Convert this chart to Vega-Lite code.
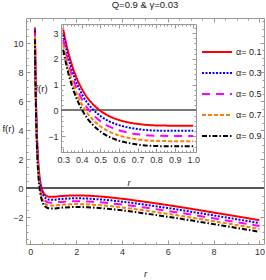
{
  "$schema": "https://vega.github.io/schema/vega-lite/v6.json",
  "width": 238,
  "height": 226,
  "autosize": "none",
  "padding": {"left": 26, "top": 18, "right": 2, "bottom": 36},
  "title": {"text": "Q=0.9 & γ=0.03", "frame": "group", "anchor": "middle", "baseline": "bottom", "offset": -2, "fontSize": 9.5, "fontWeight": "normal", "font": "Liberation Sans Narrow, Liberation Sans", "color": "#222"},
  "config": {
    "font": "Liberation Sans Narrow, Liberation Sans",
    "view": {"stroke": null},
    "axis": {"grid": false, "domainColor": "#999", "tickColor": "#999", "labelColor": "#333", "labelFontSize": 9, "titleFontWeight": "normal", "titleFontSize": 9.5, "titleColor": "#222", "labelFont": "Liberation Sans Narrow, Liberation Sans", "titleFont": "Liberation Sans Narrow, Liberation Sans"},
    "legend": {"orient": "none", "legendX": 175, "legendY": 23.5, "symbolType": "stroke", "symbolSize": 900, "symbolStrokeWidth": 2, "labelFontSize": 9, "labelColor": "#222", "labelOffset": 3, "clipHeight": 21, "rowPadding": 0, "padding": 0, "title": null}
  },
  "data": {"values": [
    {"r":0.2,"a":"α= 0.1","f":11.08},{"r":0.2,"a":"α= 0.3","f":10.88},{"r":0.2,"a":"α= 0.5","f":10.68},{"r":0.2,"a":"α= 0.7","f":10.48},{"r":0.2,"a":"α= 0.9","f":10.28},
    {"r":0.21,"a":"α= 0.1","f":9.67},{"r":0.21,"a":"α= 0.3","f":9.47},{"r":0.21,"a":"α= 0.5","f":9.27},{"r":0.21,"a":"α= 0.7","f":9.07},{"r":0.21,"a":"α= 0.9","f":8.87},
    {"r":0.22,"a":"α= 0.1","f":8.47},{"r":0.22,"a":"α= 0.3","f":8.27},{"r":0.22,"a":"α= 0.5","f":8.07},{"r":0.22,"a":"α= 0.7","f":7.87},{"r":0.22,"a":"α= 0.9","f":7.67},
    {"r":0.23,"a":"α= 0.1","f":7.44},{"r":0.23,"a":"α= 0.3","f":7.24},{"r":0.23,"a":"α= 0.5","f":7.04},{"r":0.23,"a":"α= 0.7","f":6.84},{"r":0.23,"a":"α= 0.9","f":6.64},
    {"r":0.24,"a":"α= 0.1","f":6.55},{"r":0.24,"a":"α= 0.3","f":6.35},{"r":0.24,"a":"α= 0.5","f":6.15},{"r":0.24,"a":"α= 0.7","f":5.95},{"r":0.24,"a":"α= 0.9","f":5.75},
    {"r":0.25,"a":"α= 0.1","f":5.78},{"r":0.25,"a":"α= 0.3","f":5.58},{"r":0.25,"a":"α= 0.5","f":5.38},{"r":0.25,"a":"α= 0.7","f":5.18},{"r":0.25,"a":"α= 0.9","f":4.98},
    {"r":0.26,"a":"α= 0.1","f":5.10},{"r":0.26,"a":"α= 0.3","f":4.90},{"r":0.26,"a":"α= 0.5","f":4.70},{"r":0.26,"a":"α= 0.7","f":4.50},{"r":0.26,"a":"α= 0.9","f":4.30},
    {"r":0.28,"a":"α= 0.1","f":4.00},{"r":0.28,"a":"α= 0.3","f":3.80},{"r":0.28,"a":"α= 0.5","f":3.60},{"r":0.28,"a":"α= 0.7","f":3.40},{"r":0.28,"a":"α= 0.9","f":3.20},
    {"r":0.3,"a":"α= 0.1","f":3.14},{"r":0.3,"a":"α= 0.3","f":2.94},{"r":0.3,"a":"α= 0.5","f":2.74},{"r":0.3,"a":"α= 0.7","f":2.54},{"r":0.3,"a":"α= 0.9","f":2.34},
    {"r":0.32,"a":"α= 0.1","f":2.46},{"r":0.32,"a":"α= 0.3","f":2.26},{"r":0.32,"a":"α= 0.5","f":2.06},{"r":0.32,"a":"α= 0.7","f":1.86},{"r":0.32,"a":"α= 0.9","f":1.66},
    {"r":0.34,"a":"α= 0.1","f":1.92},{"r":0.34,"a":"α= 0.3","f":1.72},{"r":0.34,"a":"α= 0.5","f":1.52},{"r":0.34,"a":"α= 0.7","f":1.32},{"r":0.34,"a":"α= 0.9","f":1.12},
    {"r":0.36,"a":"α= 0.1","f":1.48},{"r":0.36,"a":"α= 0.3","f":1.28},{"r":0.36,"a":"α= 0.5","f":1.08},{"r":0.36,"a":"α= 0.7","f":0.88},{"r":0.36,"a":"α= 0.9","f":0.68},
    {"r":0.38,"a":"α= 0.1","f":1.13},{"r":0.38,"a":"α= 0.3","f":0.93},{"r":0.38,"a":"α= 0.5","f":0.73},{"r":0.38,"a":"α= 0.7","f":0.53},{"r":0.38,"a":"α= 0.9","f":0.33},
    {"r":0.4,"a":"α= 0.1","f":0.84},{"r":0.4,"a":"α= 0.3","f":0.64},{"r":0.4,"a":"α= 0.5","f":0.44},{"r":0.4,"a":"α= 0.7","f":0.24},{"r":0.4,"a":"α= 0.9","f":0.04},
    {"r":0.43,"a":"α= 0.1","f":0.49},{"r":0.43,"a":"α= 0.3","f":0.29},{"r":0.43,"a":"α= 0.5","f":0.09},{"r":0.43,"a":"α= 0.7","f":-0.11},{"r":0.43,"a":"α= 0.9","f":-0.31},
    {"r":0.46,"a":"α= 0.1","f":0.24},{"r":0.46,"a":"α= 0.3","f":0.04},{"r":0.46,"a":"α= 0.5","f":-0.16},{"r":0.46,"a":"α= 0.7","f":-0.36},{"r":0.46,"a":"α= 0.9","f":-0.56},
    {"r":0.5,"a":"α= 0.1","f":-0.015},{"r":0.5,"a":"α= 0.3","f":-0.215},{"r":0.5,"a":"α= 0.5","f":-0.415},{"r":0.5,"a":"α= 0.7","f":-0.615},{"r":0.5,"a":"α= 0.9","f":-0.815},
    {"r":0.55,"a":"α= 0.1","f":-0.23},{"r":0.55,"a":"α= 0.3","f":-0.43},{"r":0.55,"a":"α= 0.5","f":-0.63},{"r":0.55,"a":"α= 0.7","f":-0.83},{"r":0.55,"a":"α= 0.9","f":-1.03},
    {"r":0.6,"a":"α= 0.1","f":-0.37},{"r":0.6,"a":"α= 0.3","f":-0.57},{"r":0.6,"a":"α= 0.5","f":-0.77},{"r":0.6,"a":"α= 0.7","f":-0.97},{"r":0.6,"a":"α= 0.9","f":-1.17},
    {"r":0.65,"a":"α= 0.1","f":-0.46},{"r":0.65,"a":"α= 0.3","f":-0.66},{"r":0.65,"a":"α= 0.5","f":-0.86},{"r":0.65,"a":"α= 0.7","f":-1.06},{"r":0.65,"a":"α= 0.9","f":-1.26},
    {"r":0.7,"a":"α= 0.1","f":-0.52},{"r":0.7,"a":"α= 0.3","f":-0.72},{"r":0.7,"a":"α= 0.5","f":-0.92},{"r":0.7,"a":"α= 0.7","f":-1.12},{"r":0.7,"a":"α= 0.9","f":-1.32},
    {"r":0.8,"a":"α= 0.1","f":-0.58},{"r":0.8,"a":"α= 0.3","f":-0.78},{"r":0.8,"a":"α= 0.5","f":-0.98},{"r":0.8,"a":"α= 0.7","f":-1.18},{"r":0.8,"a":"α= 0.9","f":-1.38},
    {"r":0.9,"a":"α= 0.1","f":-0.59},{"r":0.9,"a":"α= 0.3","f":-0.79},{"r":0.9,"a":"α= 0.5","f":-0.99},{"r":0.9,"a":"α= 0.7","f":-1.19},{"r":0.9,"a":"α= 0.9","f":-1.39},
    {"r":1.0,"a":"α= 0.1","f":-0.59},{"r":1.0,"a":"α= 0.3","f":-0.79},{"r":1.0,"a":"α= 0.5","f":-0.99},{"r":1.0,"a":"α= 0.7","f":-1.19},{"r":1.0,"a":"α= 0.9","f":-1.39},
    {"r":1.25,"a":"α= 0.1","f":-0.55},{"r":1.25,"a":"α= 0.3","f":-0.75},{"r":1.25,"a":"α= 0.5","f":-0.95},{"r":1.25,"a":"α= 0.7","f":-1.15},{"r":1.25,"a":"α= 0.9","f":-1.35},
    {"r":1.5,"a":"α= 0.1","f":-0.52},{"r":1.5,"a":"α= 0.3","f":-0.72},{"r":1.5,"a":"α= 0.5","f":-0.92},{"r":1.5,"a":"α= 0.7","f":-1.12},{"r":1.5,"a":"α= 0.9","f":-1.32},
    {"r":2,"a":"α= 0.1","f":-0.49},{"r":2,"a":"α= 0.3","f":-0.69},{"r":2,"a":"α= 0.5","f":-0.89},{"r":2,"a":"α= 0.7","f":-1.09},{"r":2,"a":"α= 0.9","f":-1.29},
    {"r":2.5,"a":"α= 0.1","f":-0.51},{"r":2.5,"a":"α= 0.3","f":-0.71},{"r":2.5,"a":"α= 0.5","f":-0.91},{"r":2.5,"a":"α= 0.7","f":-1.11},{"r":2.5,"a":"α= 0.9","f":-1.31},
    {"r":3,"a":"α= 0.1","f":-0.56},{"r":3,"a":"α= 0.3","f":-0.76},{"r":3,"a":"α= 0.5","f":-0.96},{"r":3,"a":"α= 0.7","f":-1.16},{"r":3,"a":"α= 0.9","f":-1.36},
    {"r":4,"a":"α= 0.1","f":-0.72},{"r":4,"a":"α= 0.3","f":-0.92},{"r":4,"a":"α= 0.5","f":-1.12},{"r":4,"a":"α= 0.7","f":-1.32},{"r":4,"a":"α= 0.9","f":-1.52},
    {"r":5,"a":"α= 0.1","f":-0.93},{"r":5,"a":"α= 0.3","f":-1.13},{"r":5,"a":"α= 0.5","f":-1.33},{"r":5,"a":"α= 0.7","f":-1.53},{"r":5,"a":"α= 0.9","f":-1.73},
    {"r":6,"a":"α= 0.1","f":-1.16},{"r":6,"a":"α= 0.3","f":-1.36},{"r":6,"a":"α= 0.5","f":-1.56},{"r":6,"a":"α= 0.7","f":-1.76},{"r":6,"a":"α= 0.9","f":-1.96},
    {"r":7,"a":"α= 0.1","f":-1.41},{"r":7,"a":"α= 0.3","f":-1.61},{"r":7,"a":"α= 0.5","f":-1.81},{"r":7,"a":"α= 0.7","f":-2.01},{"r":7,"a":"α= 0.9","f":-2.21},
    {"r":8,"a":"α= 0.1","f":-1.67},{"r":8,"a":"α= 0.3","f":-1.87},{"r":8,"a":"α= 0.5","f":-2.07},{"r":8,"a":"α= 0.7","f":-2.27},{"r":8,"a":"α= 0.9","f":-2.47},
    {"r":9,"a":"α= 0.1","f":-1.93},{"r":9,"a":"α= 0.3","f":-2.13},{"r":9,"a":"α= 0.5","f":-2.33},{"r":9,"a":"α= 0.7","f":-2.53},{"r":9,"a":"α= 0.9","f":-2.73},
    {"r":10,"a":"α= 0.1","f":-2.20},{"r":10,"a":"α= 0.3","f":-2.40},{"r":10,"a":"α= 0.5","f":-2.60},{"r":10,"a":"α= 0.7","f":-2.80},{"r":10,"a":"α= 0.9","f":-3.00}
  ]},
  "layer": [
    {
      "layer": [
        {
          "mark": {"type": "rule", "color": "#555", "strokeWidth": 1},
          "encoding": {"y": {"datum": 0, "type": "quantitative", "axis": null, "scale": {"domain": [-3.84, 11.74], "nice": false, "zero": false}}}
        },
        {
          "mark": {"type": "line", "strokeWidth": 2, "interpolate": "monotone"},
          "encoding": {
            "x": {"field": "r", "type": "quantitative", "scale": {"domain": [-0.19, 10.2], "nice": false, "zero": false},
                  "axis": {"orient": "bottom", "values": [0, 2, 4, 6, 8, 10], "format": "d", "tickSize": -4, "labelPadding": 7, "title": "r", "titleFontStyle": "italic", "titleY": 29, "titleBaseline": "middle"}},
            "y": {"field": "f", "type": "quantitative", "scale": {"domain": [-3.84, 11.74], "nice": false, "zero": false},
                  "axis": {"orient": "left", "values": [-2, 0, 2, 4, 6, 8, 10], "format": "d", "tickSize": -4, "labelPadding": 7, "title": "f(r)", "titleAngle": 0, "titleX": -18, "titleY": 110, "titleAlign": "center", "titleBaseline": "middle"}},
            "color": {"field": "a", "type": "nominal", "scale": {"domain": ["α= 0.1", "α= 0.3", "α= 0.5", "α= 0.7", "α= 0.9"], "range": ["#ff0000", "#0000ff", "#ff00ff", "#ff8000", "#000000"]}},
            "strokeDash": {"field": "a", "type": "nominal", "scale": {"domain": ["α= 0.1", "α= 0.3", "α= 0.5", "α= 0.7", "α= 0.9"], "range": [[1, 0], [2, 1.5], [8, 6], [4, 2], [5, 2, 1.5, 2]]}}
          }
        },
        {
          "mark": {"type": "line", "opacity": 0},
          "encoding": {
            "x": {"field": "r", "type": "quantitative", "axis": {"orient": "top", "values": [0, 2, 4, 6, 8, 10], "labels": false, "tickSize": -4, "title": null}},
            "y": {"field": "f", "type": "quantitative", "axis": {"orient": "right", "values": [-2, 0, 2, 4, 6, 8, 10], "labels": false, "tickSize": -4, "title": null}}
          }
        },
        {
          "mark": {"type": "line", "opacity": 0},
          "encoding": {
            "x": {"field": "r", "type": "quantitative", "axis": {"orient": "bottom", "values": [0.5, 1, 1.5, 2.5, 3, 3.5, 4.5, 5, 5.5, 6.5, 7, 7.5, 8.5, 9, 9.5], "labels": false, "domain": false, "tickSize": -2, "title": null}},
            "y": {"field": "f", "type": "quantitative", "axis": {"orient": "left", "values": [-3.5, -3, -2.5, -1.5, -1, -0.5, 0.5, 1, 1.5, 2.5, 3, 3.5, 4.5, 5, 5.5, 6.5, 7, 7.5, 8.5, 9, 9.5, 10.5, 11, 11.5], "labels": false, "domain": false, "tickSize": -2, "title": null}}
          }
        },
        {
          "mark": {"type": "line", "opacity": 0},
          "encoding": {
            "x": {"field": "r", "type": "quantitative", "axis": {"orient": "top", "values": [0.5, 1, 1.5, 2.5, 3, 3.5, 4.5, 5, 5.5, 6.5, 7, 7.5, 8.5, 9, 9.5], "labels": false, "domain": false, "tickSize": -2, "title": null}},
            "y": {"field": "f", "type": "quantitative", "axis": {"orient": "right", "values": [-3.5, -3, -2.5, -1.5, -1, -0.5, 0.5, 1, 1.5, 2.5, 3, 3.5, 4.5, 5, 5.5, 6.5, 7, 7.5, 8.5, 9, 9.5, 10.5, 11, 11.5], "labels": false, "domain": false, "tickSize": -2, "title": null}}
          }
        }
      ],
      "resolve": {"axis": {"x": "independent", "y": "independent"}}
    },
    {
      "transform": [{"filter": "datum.r >= 0.3 && datum.r <= 1.0"}],
      "layer": [
        {
          "mark": {"type": "rule", "color": "#777", "strokeWidth": 1},
          "encoding": {
            "x": {"datum": 0.288, "type": "quantitative", "axis": null, "scale": {"domain": [0.288, 1.015], "range": [35, 170], "nice": false, "zero": false}},
            "x2": {"datum": 1.015},
            "y": {"datum": 0, "type": "quantitative", "axis": null, "scale": {"domain": [-1.61, 3.35], "range": [134, 6], "nice": false, "zero": false}}
          }
        },
        {
          "mark": {"type": "line", "strokeWidth": 2, "interpolate": "monotone"},
          "encoding": {
            "x": {"field": "r", "type": "quantitative", "scale": {"domain": [0.288, 1.015], "range": [35, 170], "nice": false, "zero": false},
                  "axis": {"orient": "bottom", "offset": -92, "values": [0.3, 0.4, 0.5, 0.6, 0.7, 0.8, 0.9, 1.0], "format": ".1f", "tickSize": -4, "labelPadding": 7, "title": "r", "titleFontStyle": "italic", "titleY": 30, "titleBaseline": "middle"}},
            "y": {"field": "f", "type": "quantitative", "scale": {"domain": [-1.61, 3.35], "range": [134, 6], "nice": false, "zero": false},
                  "axis": {"orient": "left", "offset": -35, "values": [-1, 0, 1, 2, 3], "format": "d", "tickSize": -4, "labelPadding": 7, "title": "f(r)", "titleAngle": 0, "titleX": -20, "titleY": 70, "titleAlign": "center", "titleBaseline": "middle"}},
            "color": {"field": "a", "type": "nominal"},
            "strokeDash": {"field": "a", "type": "nominal"}
          }
        },
        {
          "mark": {"type": "line", "opacity": 0},
          "encoding": {
            "x": {"field": "r", "type": "quantitative", "axis": {"orient": "top", "offset": -6, "values": [0.3, 0.4, 0.5, 0.6, 0.7, 0.8, 0.9, 1.0], "labels": false, "tickSize": -4, "title": null}},
            "y": {"field": "f", "type": "quantitative", "axis": {"orient": "right", "offset": -68, "values": [-1, 0, 1, 2, 3], "labels": false, "tickSize": -4, "title": null}}
          }
        },
        {
          "mark": {"type": "line", "opacity": 0},
          "encoding": {
            "x": {"field": "r", "type": "quantitative", "axis": {"orient": "bottom", "offset": -92, "values": [0.32, 0.34, 0.36, 0.38, 0.42, 0.44, 0.46, 0.48, 0.52, 0.54, 0.56, 0.58, 0.62, 0.64, 0.66, 0.68, 0.72, 0.74, 0.76, 0.78, 0.82, 0.84, 0.86, 0.88, 0.92, 0.94, 0.96, 0.98], "labels": false, "domain": false, "tickSize": -2, "title": null}},
            "y": {"field": "f", "type": "quantitative", "axis": {"orient": "left", "offset": -35, "values": [-1.6, -1.4, -1.2, -0.8, -0.6, -0.4, -0.2, 0.2, 0.4, 0.6, 0.8, 1.2, 1.4, 1.6, 1.8, 2.2, 2.4, 2.6, 2.8, 3.2], "labels": false, "domain": false, "tickSize": -2, "title": null}}
          }
        },
        {
          "mark": {"type": "line", "opacity": 0},
          "encoding": {
            "x": {"field": "r", "type": "quantitative", "axis": {"orient": "top", "offset": -6, "values": [0.32, 0.34, 0.36, 0.38, 0.42, 0.44, 0.46, 0.48, 0.52, 0.54, 0.56, 0.58, 0.62, 0.64, 0.66, 0.68, 0.72, 0.74, 0.76, 0.78, 0.82, 0.84, 0.86, 0.88, 0.92, 0.94, 0.96, 0.98], "labels": false, "domain": false, "tickSize": -2, "title": null}},
            "y": {"field": "f", "type": "quantitative", "axis": {"orient": "right", "offset": -68, "values": [-1.6, -1.4, -1.2, -0.8, -0.6, -0.4, -0.2, 0.2, 0.4, 0.6, 0.8, 1.2, 1.4, 1.6, 1.8, 2.2, 2.4, 2.6, 2.8, 3.2], "labels": false, "domain": false, "tickSize": -2, "title": null}}
          }
        }
      ],
      "resolve": {"axis": {"x": "independent", "y": "independent"}}
    }
  ],
  "resolve": {"scale": {"x": "independent", "y": "independent"}}
}
